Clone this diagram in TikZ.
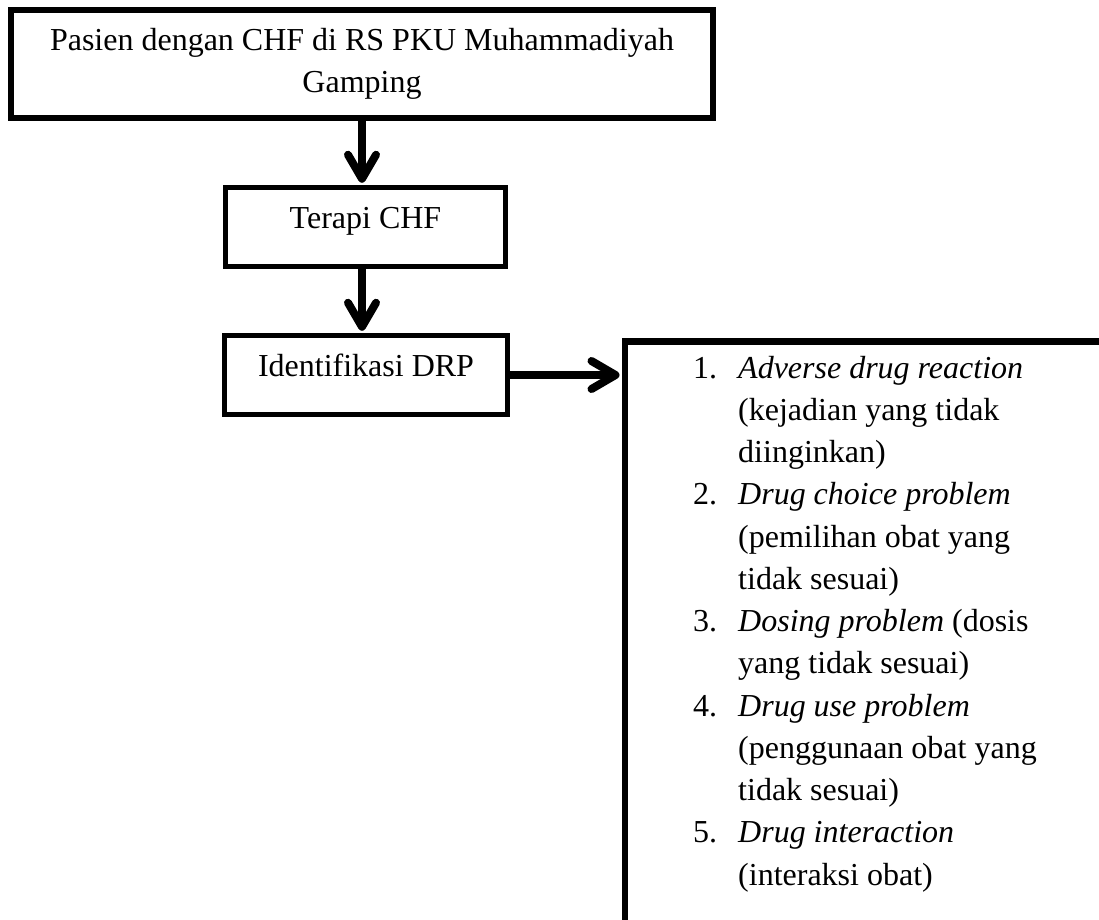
\documentclass[tikz,border=0pt]{standalone}
\usepackage{fontspec}
\setmainfont{Liberation Serif}
\usetikzlibrary{arrows.meta}
\newcommand\drpnum[1]{\makebox[45pt][l]{#1}}
\newcommand\drpind{\hspace*{45pt}}
\begin{document}
\begin{tikzpicture}[x=1pt,y=1pt,
  box/.style={draw, line width=5.5pt, inner sep=0pt},
  flowarrow/.style={line width=8pt, -{Straight Barb[length=24pt,width=28pt,round]}, shorten >=2pt},
  txt/.style={font=\fontsize{32}{42.25}\selectfont}]
\useasboundingbox (0,0) rectangle (1099,-919);
\clip (0,0) rectangle (1099,-919);
\node[box, txt, minimum width=702pt, minimum height=108pt, align=center] (pasien) at (362,-64)
  {Pasien dengan CHF di RS PKU Muhammadiyah\\Gamping};
\node[box, txt, minimum width=280pt, text height=40.5pt, text depth=38.5pt] (terapi) at (365.5,-227) {Terapi CHF};
\node[box, txt, minimum width=283pt, text height=40.5pt, text depth=38.5pt] (ident) at (366,-375) {Identifikasi DRP};
\node[box, line width=6.5pt, minimum width=479pt, minimum height=592pt, anchor=north west] (drp) at (621.5,-338) {};
\node[txt, anchor=base west, align=left, inner sep=0pt] (list) at (693,-885) {%
\drpnum{1.}\textit{Adverse drug reaction}\\
\drpind(kejadian yang tidak\\
\drpind diinginkan)\\
\drpnum{2.}\textit{Drug choice problem}\\
\drpind(pemilihan obat yang\\
\drpind tidak sesuai)\\
\drpnum{3.}\textit{Dosing problem} (dosis\\
\drpind yang tidak sesuai)\\
\drpnum{4.}\textit{Drug use problem}\\
\drpind(penggunaan obat yang\\
\drpind tidak sesuai)\\
\drpnum{5.}\textit{Drug interaction}\\
\drpind(interaksi obat)};
\draw[flowarrow] (pasien.south) -- (pasien.south |- terapi.north);
\draw[flowarrow] (pasien.south |- terapi.south) -- (pasien.south |- ident.north);
\draw[flowarrow] (ident.east) -- (ident.east -| drp.west);
\end{tikzpicture}
\end{document}
